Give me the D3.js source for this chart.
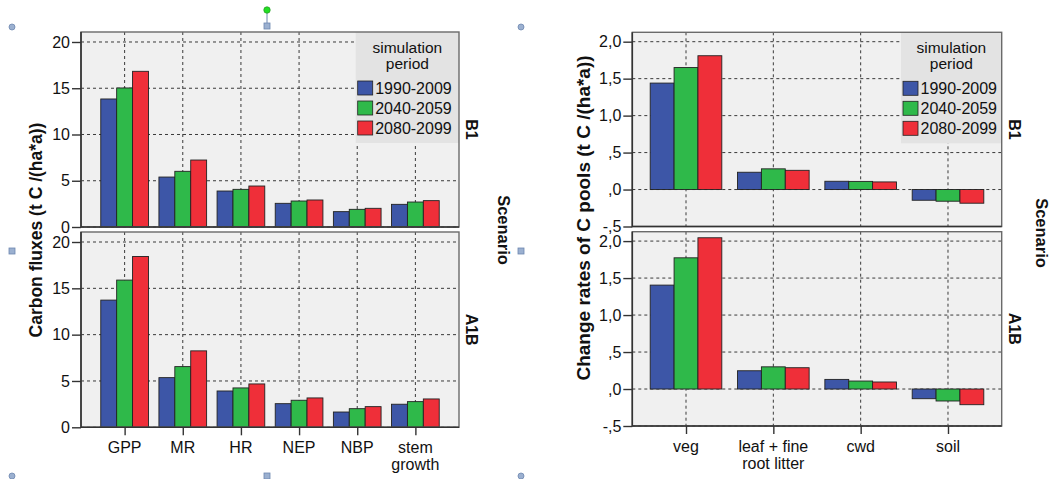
<!DOCTYPE html>
<html>
<head>
<meta charset="utf-8">
<script src="https://cdn.jsdelivr.net/npm/d3@7"></script>
<style>
  body { margin: 0; background: #fff; }
  svg { display: block; font-family: "Liberation Sans", Arial, sans-serif; }
</style>
</head>
<body>
<svg id="chart" width="1054" height="479"></svg>
<script>
// simulation periods and their colours
const periods = ["1990-2009", "2040-2059", "2080-2099"];
const periodColors = ["#3d56a7", "#2fb94a", "#ef2f39"];
const scenarios = ["B1", "A1B"];

// left chart: carbon fluxes, one row per period
const fluxCategories = ["GPP", "MR", "HR", "NEP", "NBP", "stem growth"];
const fluxLabels = ["GPP", "MR", "HR", "NEP", "NBP", "stem\ngrowth"];
const fluxB1 = [
  [13.84, 5.40, 3.89, 2.56, 1.66, 2.45],
  [15.03, 6.02, 4.07, 2.81, 1.91, 2.70],
  [16.83, 7.24, 4.43, 2.92, 2.02, 2.85],
];
const fluxA1B = [
  [13.73, 5.36, 3.92, 2.55, 1.65, 2.49],
  [15.89, 6.55, 4.25, 2.92, 2.01, 2.77],
  [18.44, 8.25, 4.68, 3.17, 2.23, 3.06],
];
const fluxTicks = [0, 5, 10, 15, 20];
const fluxTickLabels = ["0", "5", "10", "15", "20"];

// right chart: change rates of C pools
const poolCategories = ["veg", "leaf + fine root litter", "cwd", "soil"];
const poolLabels = ["veg", "leaf + fine\nroot litter", "cwd", "soil"];
const poolB1 = [
  [1.44, 0.234, 0.112, -0.145],
  [1.65, 0.280, 0.110, -0.158],
  [1.81, 0.260, 0.103, -0.185],
];
const poolA1B = [
  [1.405, 0.247, 0.130, -0.131],
  [1.774, 0.300, 0.108, -0.162],
  [2.045, 0.288, 0.095, -0.212],
];
const poolTicks = [-0.5, 0, 0.5, 1, 1.5, 2];
const poolTickLabels = ["-,5", ",0", ",5", "1,0", "1,5", "2,0"];

const svg = d3.select("#chart");

function panel({
  categories, labels, series, ticks, tickLabels, domain,
  left, right, facets, padding, title, titleX, titleY, titleSize,
  stripX, scenarioX, scenarioY, legendX,
}) {
  const g = svg.append("g");

  const x = d3.scalePoint().domain(categories).range([left, right]).padding(padding);
  const clusterW = x.step() * 0.82;
  const inner = d3.scaleBand().domain(periods).range([-clusterW / 2, clusterW / 2]);
  const color = d3.scaleOrdinal().domain(periods).range(periodColors);

  facets.forEach(([top, bottom], fi) => {
    const y = d3.scaleLinear().domain(domain).range([bottom, top]);
    const f = g.append("g");

    // facet background
    f.append("rect")
      .attr("x", left).attr("y", top)
      .attr("width", right - left).attr("height", bottom - top)
      .attr("fill", "#f0f0f0");

    // dashed grid
    f.selectAll("line.hgrid").data(ticks).join("line")
      .attr("class", "hgrid")
      .attr("x1", left).attr("x2", right)
      .attr("y1", d => y(d)).attr("y2", d => y(d))
      .attr("stroke", "#3a3a3a").attr("stroke-width", 1)
      .attr("stroke-dasharray", "3,3");
    f.selectAll("line.vgrid").data(categories).join("line")
      .attr("class", "vgrid")
      .attr("x1", d => x(d)).attr("x2", d => x(d))
      .attr("y1", top).attr("y2", bottom)
      .attr("stroke", "#3a3a3a").attr("stroke-width", 1)
      .attr("stroke-dasharray", "3,3");

    // legend box only in the top facet (covers grid)
    if (fi === 0) {
      const lg = f.append("g");
      lg.append("rect")
        .attr("x", legendX).attr("y", top)
        .attr("width", right - legendX).attr("height", 111)
        .attr("fill", "#e3e3e3");
      const cx = (legendX + right) / 2;
      lg.append("text").attr("x", cx).attr("y", top + 21)
        .attr("text-anchor", "middle").style("font-size", "15.5px").attr("fill", "#111").text("simulation");
      lg.append("text").attr("x", cx).attr("y", top + 37)
        .attr("text-anchor", "middle").style("font-size", "15.5px").attr("fill", "#111").text("period");
      periods.forEach((p, i) => {
        lg.append("rect")
          .attr("x", legendX + 2).attr("y", top + 49 + i * 20)
          .attr("width", 15).attr("height", 14)
          .attr("fill", color(p)).attr("stroke", "#222").attr("stroke-width", 0.8);
        lg.append("text")
          .attr("x", legendX + 19.5).attr("y", top + 62 + i * 20)
          .style("font-size", "16px").attr("fill", "#111").text(p);
      });
    }

    // bars
    const rows = [];
    series[fi].forEach((vals, pi) => {
      vals.forEach((v, ci) => rows.push({ cat: categories[ci], period: periods[pi], value: v }));
    });
    f.selectAll("rect.bar").data(rows).join("rect")
      .attr("class", "bar")
      .attr("x", d => x(d.cat) + inner(d.period))
      .attr("width", inner.bandwidth())
      .attr("y", d => Math.min(y(0), y(d.value)))
      .attr("height", d => Math.abs(y(d.value) - y(0)))
      .attr("fill", d => color(d.period))
      .attr("stroke", "#222").attr("stroke-width", 0.9);

    // frame
    f.append("rect")
      .attr("x", left).attr("y", top)
      .attr("width", right - left).attr("height", bottom - top)
      .attr("fill", "none").attr("stroke", "#6a6a6a").attr("stroke-width", 1.4);
    f.append("path")
      .attr("d", `M${left},${top}V${bottom}H${right}`)
      .attr("fill", "none").attr("stroke", "#333").attr("stroke-width", 1.6);

    // y axis
    const yAxis = d3.axisLeft(y).tickValues(ticks)
      .tickFormat((d, i) => tickLabels[i]).tickSize(9).tickPadding(2);
    const ya = f.append("g").attr("transform", `translate(${left},0)`).call(yAxis);
    ya.select(".domain").remove();
    ya.selectAll("line").attr("stroke", "#333").attr("stroke-width", 1.4);
    ya.selectAll("text").style("font-size", "16px").attr("fill", "#111").attr("font-family", null);

    // scenario strip label
    f.append("text")
      .attr("transform", `translate(${stripX},${(top + bottom) / 2}) rotate(90)`)
      .attr("text-anchor", "middle").attr("dy", "0.35em")
      .style("font-size", "16px").style("font-weight", "bold").attr("fill", "#111")
      .text(scenarios[fi]);

    // x axis below the lower facet
    if (fi === facets.length - 1) {
      const xAxis = d3.axisBottom(x).tickSize(8).tickPadding(7).tickFormat("");
      const xa = f.append("g").attr("transform", `translate(0,${bottom})`).call(xAxis);
      xa.select(".domain").remove();
      xa.selectAll("line").attr("stroke", "#333").attr("stroke-width", 1.4);
      categories.forEach((c, ci) => {
        const t = f.append("text")
          .attr("x", x(c)).attr("y", bottom + 26)
          .attr("text-anchor", "middle").style("font-size", "16px").attr("fill", "#111");
        labels[ci].split("\n").forEach((line, li) => {
          t.append("tspan").attr("x", x(c)).attr("dy", li === 0 ? 0 : 16.5).text(line);
        });
      });
    }
  });

  // y axis title
  g.append("text")
    .attr("transform", `translate(${titleX},${titleY}) rotate(-90)`)
    .attr("text-anchor", "middle").attr("dy", "0.35em")
    .style("font-size", titleSize).style("font-weight", "bold").attr("fill", "#111")
    .text(title);

  // "Scenario" outer strip title
  g.append("text")
    .attr("transform", `translate(${scenarioX},${scenarioY}) rotate(90)`)
    .attr("text-anchor", "middle").attr("dy", "0.35em")
    .style("font-size", "16.5px").style("font-weight", "bold").attr("fill", "#111")
    .text("Scenario");
}

panel({
  categories: fluxCategories, labels: fluxLabels,
  series: [fluxB1, fluxA1B],
  ticks: fluxTicks, tickLabels: fluxTickLabels,
  domain: [0, 21.08],
  left: 81, right: 459,
  facets: [[32, 227], [232, 427.3]],
  padding: 0.75,
  title: "Carbon fluxes (t C /(ha*a))", titleX: 36, titleY: 230, titleSize: "17.5px",
  stripX: 472, scenarioX: 504, scenarioY: 230,
  legendX: 355.7,
});

panel({
  categories: poolCategories, labels: poolLabels,
  series: [poolB1, poolA1B],
  ticks: poolTicks, tickLabels: poolTickLabels,
  domain: [-0.5, 2.127],
  left: 632.3, right: 1001.7,
  facets: [[32.3, 226.5], [231.7, 426]],
  padding: 0.615,
  title: "Change rates of C pools (t C /(ha*a))", titleX: 583, titleY: 218, titleSize: "19px",
  stripX: 1015, scenarioX: 1042, scenarioY: 233,
  legendX: 901,
});

// selection handles left over from the document editor
const handleCircles = [[12, 27], [521, 27], [12, 476], [521, 476]];
const handleSquares = [[267, 26], [12, 251], [521, 251], [267, 476]];
svg.append("line")
  .attr("x1", 267).attr("x2", 267).attr("y1", 12).attr("y2", 24)
  .attr("stroke", "#6d87b0").attr("stroke-width", 1);
svg.selectAll("circle.handle").data(handleCircles).join("circle")
  .attr("class", "handle")
  .attr("cx", d => d[0]).attr("cy", d => d[1]).attr("r", 3)
  .attr("fill", "#9bb0d0").attr("stroke", "#6d87b0").attr("stroke-width", 0.8);
svg.selectAll("rect.handle").data(handleSquares).join("rect")
  .attr("class", "handle")
  .attr("x", d => d[0] - 3).attr("y", d => d[1] - 3).attr("width", 6).attr("height", 6)
  .attr("fill", "#9bb0d0").attr("stroke", "#6d87b0").attr("stroke-width", 0.8);
svg.append("circle")
  .attr("cx", 267).attr("cy", 10).attr("r", 3.2)
  .attr("fill", "#22e022").attr("stroke", "#2aa02a").attr("stroke-width", 0.8);
</script>
</body>
</html>
